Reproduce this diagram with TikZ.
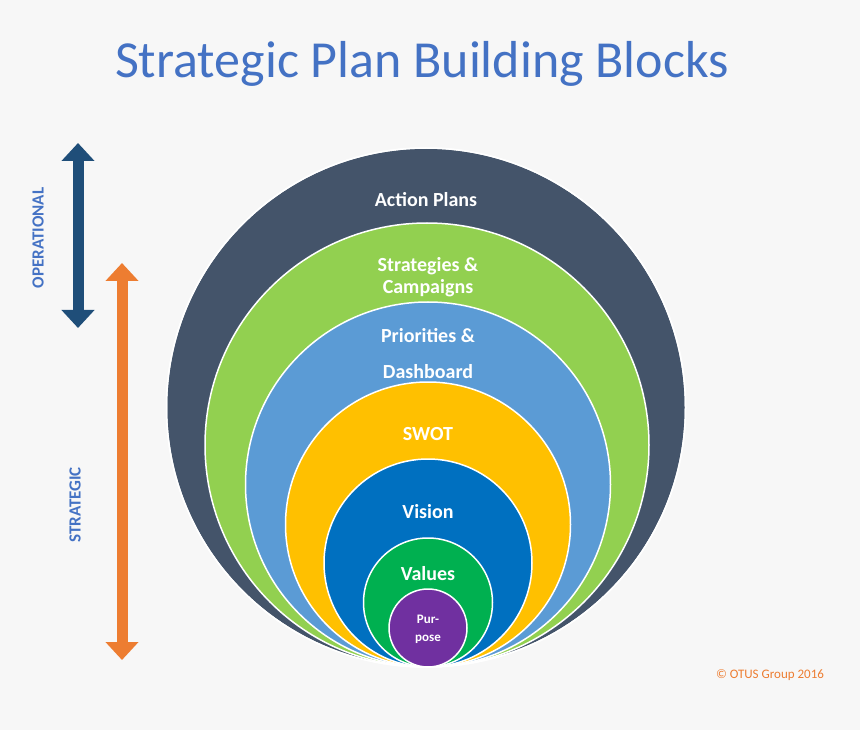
\documentclass[tikz,border=0pt]{standalone}
\usepackage{fontspec}
\setmainfont{Carlito}
\usetikzlibrary{arrows.meta}
\definecolor{bg}{HTML}{F7F7F7}
\definecolor{titleblue}{HTML}{4472C4}
\definecolor{cDark}{HTML}{44546A}
\definecolor{cLime}{HTML}{92D050}
\definecolor{cSky}{HTML}{5B9BD5}
\definecolor{cGold}{HTML}{FFC000}
\definecolor{cBlue}{HTML}{0070C0}
\definecolor{cGreen}{HTML}{00B050}
\definecolor{cPurple}{HTML}{7030A0}
\definecolor{cNavy}{HTML}{1F4E79}
\definecolor{cOrange}{HTML}{ED7D31}
\begin{document}
\begin{tikzpicture}[x=1pt,y=-1pt,
  ring/.style={draw=white,line width=1.5pt},
  lbl/.style={text=white,font=\bfseries\fontsize{20}{22}\selectfont,align=center},
  dbl/.style={line width=11pt,{Triangle[width=32pt,length=18pt]}-{Triangle[width=32pt,length=18pt]}}]
\fill[bg] (0,0) rectangle (860,730);
\useasboundingbox (0,0) rectangle (860,730);
\node[text=titleblue,font=\fontsize{52}{56}\selectfont] (title) at (422,64) {Strategic Plan Building Blocks};
\fill[ring,fill=cDark] (426,407.5) circle (259.5);
\fill[ring,fill=cLime] (427,445) circle (222);
\fill[ring,fill=cSky] (428,484.5) circle (182.5);
\fill[ring,fill=cGold] (428,524.5) circle (142.5);
\fill[ring,fill=cBlue] (428,563) circle (104);
\fill[ring,fill=cGreen] (428,602.5) circle (64.5);
\fill[ring,fill=cPurple] (428,628) circle (39);
\draw[ring] (426,407.5) circle (259.5);
\node[lbl] (ap) at (426,200) {Action Plans};
\node[lbl] (sc) at (428,277) {Strategies \&\\Campaigns};
\node[lbl] (pd1) at (428,336) {Priorities \&};
\node[lbl] (pd2) at (428,372) {Dashboard};
\node[lbl] (sw) at (428,434) {SWOT};
\node[lbl] (vi) at (428,512) {Vision};
\node[lbl] (va) at (428,574) {Values};
\node[text=white,font=\bfseries\fontsize{13}{18}\selectfont,align=center] (pu) at (428,629) {Pur-\\pose};
\coordinate (o1) at (78,143);
\coordinate (o2) at (78,328);
\coordinate (s1) at (122,263);
\coordinate (s2) at (122,660);
\draw[dbl,cNavy] (o1) -- (o2);
\draw[dbl,cOrange] (s1) -- (s2);
\node[rotate=90,text=titleblue,font=\bfseries\fontsize{17}{18}\selectfont] (op) at (38,238) {OPERATIONAL};
\node[rotate=90,text=titleblue,font=\bfseries\fontsize{17}{18}\selectfont] (st) at (75,505) {STRATEGIC};
\node[text=cOrange,font=\fontsize{13}{14}\selectfont] (cp) at (770,675) {© OTUS Group 2016};
\end{tikzpicture}
\end{document}
